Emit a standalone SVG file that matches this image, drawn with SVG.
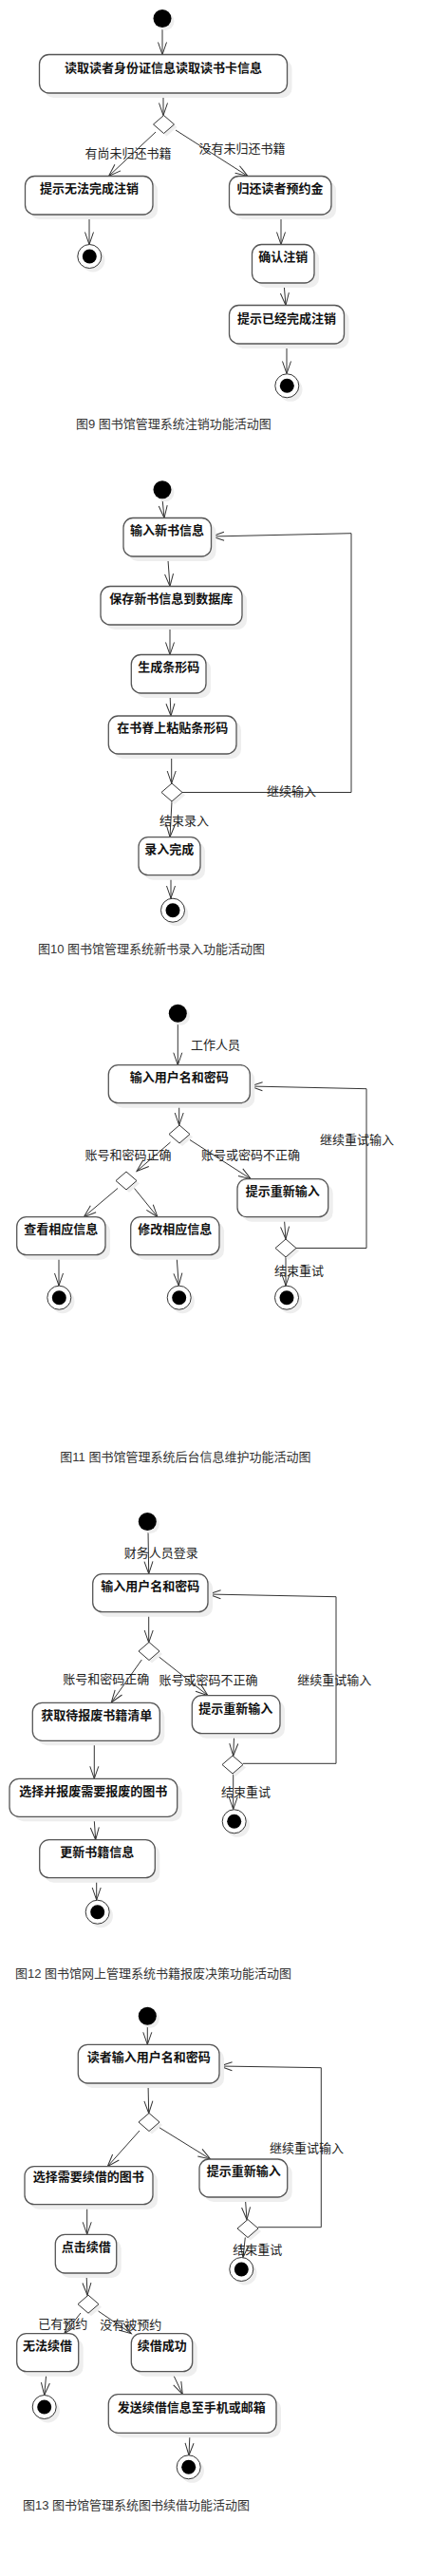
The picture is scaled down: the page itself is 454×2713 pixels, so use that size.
<svg xmlns="http://www.w3.org/2000/svg" width="454" height="2713" viewBox="0 0 454 2713">
<style>
.sh{fill:#eeeeee}
.box{fill:#fff;stroke:#555;stroke-width:1.3}
.t{font-family:"Liberation Sans","Noto Sans CJK SC",sans-serif;font-size:13px;font-weight:bold;text-anchor:middle;fill:#111}
.l{font-family:"Liberation Sans","Noto Sans CJK SC",sans-serif;font-size:13px;text-anchor:middle;fill:#222}
.cap{font-family:"Liberation Sans","Noto Sans CJK SC",sans-serif;font-size:13px;fill:#333}
.c{fill:none;stroke:#333;stroke-width:1;marker-end:url(#a)}
.dm{fill:#fff;stroke:#333;stroke-width:1}
.st{fill:#000}
.eo{fill:#fff;stroke:#333;stroke-width:1}
</style>
<defs>
<marker id="a" markerUnits="userSpaceOnUse" markerWidth="14" markerHeight="11" refX="13" refY="5" orient="auto" overflow="visible">
<path d="M0,0.5 L13,5 L0,9.5" fill="none" stroke="#333" stroke-width="1"/>
</marker>
</defs>
<rect width="454" height="2713" fill="#fff"/>

<g id="connectors">
<!-- diagram 1 -->
<line class="c" x1="171" y1="29" x2="171" y2="57.5"/>
<line class="c" x1="172" y1="98" x2="172" y2="121.5"/>
<line class="c" x1="164" y1="139" x2="114.5" y2="185.5"/>
<line class="c" x1="185" y1="137" x2="261" y2="185.5"/>
<line class="c" x1="94" y1="226" x2="94" y2="257.5"/>
<line class="c" x1="296" y1="226" x2="296" y2="257.5"/>
<line class="c" x1="299" y1="298" x2="301" y2="321.5"/>
<line class="c" x1="302" y1="362" x2="302" y2="393.5"/>
<!-- diagram 2 -->
<line class="c" x1="171" y1="525.2" x2="173" y2="545.5"/>
<line class="c" x1="176.7" y1="586" x2="179" y2="617.5"/>
<line class="c" x1="179" y1="658" x2="179" y2="689.5"/>
<line class="c" x1="179" y1="730" x2="180" y2="754"/>
<line class="c" x1="180.7" y1="794" x2="180.7" y2="825"/>
<line class="c" x1="181" y1="844" x2="179" y2="881.7"/>
<path class="c" d="M192,834.5 L370,834.5 L370,561.7 L223,565"/>
<line class="c" x1="180" y1="921.7" x2="180" y2="946"/>
<!-- diagram 3 -->
<line class="c" x1="187.3" y1="1077" x2="187.3" y2="1121.7"/>
<line class="c" x1="188.7" y1="1161.7" x2="188.7" y2="1185"/>
<line class="c" x1="179.5" y1="1203" x2="144" y2="1233.5"/>
<line class="c" x1="200" y1="1200.5" x2="264.3" y2="1241.7"/>
<line class="c" x1="124" y1="1251.5" x2="88.3" y2="1281.7"/>
<line class="c" x1="141.5" y1="1251.5" x2="166" y2="1281.7"/>
<line class="c" x1="299.3" y1="1281.7" x2="301" y2="1305"/>
<line class="c" x1="301" y1="1324" x2="301" y2="1354"/>
<path class="c" d="M312,1314.5 L386,1314.5 L386,1146.7 L263.5,1144"/>
<line class="c" x1="62" y1="1321.7" x2="62" y2="1354"/>
<line class="c" x1="186" y1="1321.7" x2="188.3" y2="1354"/>
<!-- diagram 4 -->
<line class="c" x1="156" y1="1612" x2="156.7" y2="1657.5"/>
<line class="c" x1="156.7" y1="1697.7" x2="156.7" y2="1730"/>
<line class="c" x1="149.3" y1="1748" x2="117.3" y2="1793"/>
<line class="c" x1="167.5" y1="1745" x2="219" y2="1785.7"/>
<line class="c" x1="246.7" y1="1825.7" x2="245.7" y2="1849.3"/>
<line class="c" x1="245.7" y1="1868" x2="245.7" y2="1905.5"/>
<path class="c" d="M256,1857.3 L354,1857.3 L354,1681.7 L219.5,1679"/>
<line class="c" x1="99.3" y1="1833.3" x2="99.3" y2="1873.3"/>
<line class="c" x1="99" y1="1913.3" x2="100.7" y2="1937.7"/>
<line class="c" x1="101.7" y1="1977.7" x2="101.7" y2="2001"/>
<!-- diagram 5 -->
<line class="c" x1="155.3" y1="2133" x2="155.3" y2="2153.3"/>
<line class="c" x1="156" y1="2194" x2="156.7" y2="2225.7"/>
<line class="c" x1="147" y1="2244" x2="113.3" y2="2281.7"/>
<line class="c" x1="167.5" y1="2240.5" x2="221.7" y2="2274"/>
<line class="c" x1="258.3" y1="2314" x2="260" y2="2337.7"/>
<line class="c" x1="258.3" y1="2356.5" x2="256" y2="2377.5"/>
<path class="c" d="M271.7,2345.7 L338.3,2345.7 L338.3,2177.7 L231.5,2176"/>
<line class="c" x1="91.7" y1="2321.7" x2="91.7" y2="2353.3"/>
<line class="c" x1="91" y1="2394" x2="92" y2="2417.3"/>
<line class="c" x1="85" y1="2436" x2="67.7" y2="2457.7"/>
<line class="c" x1="103.5" y1="2434" x2="138.3" y2="2457.7"/>
<line class="c" x1="49" y1="2497.7" x2="46.7" y2="2522.5"/>
<line class="c" x1="181" y1="2497.7" x2="192.3" y2="2521.7"/>
<line class="c" x1="200" y1="2562.3" x2="199" y2="2586"/>
</g>

<g id="labels">
<text class="l" x="135" y="166">有尚未归还书籍</text>
<text class="l" x="255" y="161">没有未归还书籍</text>
<text class="l" x="194" y="868.5">结束录入</text>
<text class="l" x="307" y="837.5">继续输入</text>
<text class="l" x="227" y="1104.5">工作人员</text>
<text class="l" x="135" y="1221">账号和密码正确</text>
<text class="l" x="264" y="1221">账号或密码不正确</text>
<text class="l" x="315" y="1343">结束重试</text>
<text class="l" x="376" y="1205">继续重试输入</text>
<text class="l" x="169.7" y="1639.5">财务人员登录</text>
<text class="l" x="111.7" y="1773">账号和密码正确</text>
<text class="l" x="219.5" y="1773.8">账号或密码不正确</text>
<text class="l" x="352.3" y="1773.8">继续重试输入</text>
<text class="l" x="259" y="1892">结束重试</text>
<text class="l" x="323" y="2267.2">继续重试输入</text>
<text class="l" x="271.3" y="2373.8">结束重试</text>
<text class="l" x="66.3" y="2452.2">已有预约</text>
<text class="l" x="137.7" y="2452.8">没有被预约</text>
</g>

<!-- Diagram 1 -->
<g id="d1_start"><circle class="sh" cx="174" cy="22.5" r="9.5"/><circle class="st" cx="171" cy="19.5" r="9.5"/></g>
<g id="d1_read"><rect class="sh" x="46.5" y="62.5" width="261" height="40.5" rx="10"/><rect class="box" x="41.5" y="57.5" width="261" height="40.5" rx="10"/><text class="t" x="172" y="75.5">读取读者身份证信息读取读书卡信息</text></g>
<g id="d1_dec"><polygon class="sh" points="164.5,134 175.5,124.5 186.5,134 175.5,143.5"/><polygon class="dm" points="161.5,131 172.5,121.5 183.5,131 172.5,140.5"/></g>
<g id="d1_fail"><rect class="sh" x="31.5" y="190.5" width="134.5" height="40.5" rx="10"/><rect class="box" x="26.5" y="185.5" width="134.5" height="40.5" rx="10"/><text class="t" x="94" y="202.5">提示无法完成注销</text></g>
<g id="d1_refund"><rect class="sh" x="246.5" y="190.5" width="107.5" height="40.5" rx="10"/><rect class="box" x="241.5" y="185.5" width="107.5" height="40.5" rx="10"/><text class="t" x="295" y="202.5">归还读者预约金</text></g>
<g id="d1_end1"><circle class="sh" cx="98" cy="274" r="12.5"/><circle class="eo" cx="94.3" cy="270" r="12.5"/><circle class="st" cx="94.3" cy="270" r="7.5"/></g>
<g id="d1_confirm"><rect class="sh" x="270.5" y="262.5" width="65.5" height="40.5" rx="10"/><rect class="box" x="265.5" y="257.5" width="65.5" height="40.5" rx="10"/><text class="t" x="298.3" y="275">确认注销</text></g>
<g id="d1_done"><rect class="sh" x="246.5" y="326.5" width="121" height="40.5" rx="10"/><rect class="box" x="241.5" y="321.5" width="121" height="40.5" rx="10"/><text class="t" x="302" y="339.5">提示已经完成注销</text></g>
<g id="d1_end2"><circle class="sh" cx="306" cy="410.3" r="12.5"/><circle class="eo" cx="302.3" cy="406.3" r="12.5"/><circle class="st" cx="302.3" cy="406.3" r="7.5"/></g>
<g id="cap9"><text class="cap" x="80" y="451">图9 图书馆管理系统注销功能活动图</text></g>

<!-- Diagram 2 -->
<g id="d2_start"><circle class="sh" cx="174" cy="518.7" r="9.5"/><circle class="st" cx="171" cy="515.7" r="9.5"/></g>
<g id="d2_input"><rect class="sh" x="135" y="550.5" width="92.5" height="40.5" rx="10"/><rect class="box" x="130" y="545.5" width="92.5" height="40.5" rx="10"/><text class="t" x="176" y="562.8">输入新书信息</text></g>
<g id="d2_save"><rect class="sh" x="111" y="622.5" width="149" height="40.5" rx="10"/><rect class="box" x="106" y="617.5" width="149" height="40.5" rx="10"/><text class="t" x="180.3" y="635">保存新书信息到数据库</text></g>
<g id="d2_gen"><rect class="sh" x="143.3" y="694.5" width="78.7" height="40.5" rx="10"/><rect class="box" x="138.3" y="689.5" width="78.7" height="40.5" rx="10"/><text class="t" x="177.7" y="707">生成条形码</text></g>
<g id="d2_paste"><rect class="sh" x="119.3" y="759" width="134.7" height="40" rx="10"/><rect class="box" x="114.3" y="754" width="134.7" height="40" rx="10"/><text class="t" x="181.7" y="771">在书脊上粘贴条形码</text></g>
<g id="d2_dec"><polygon class="sh" points="173,837.5 184,828 195,837.5 184,847"/><polygon class="dm" points="170,834.5 181,825 192,834.5 181,844"/></g>
<g id="d2_finish"><rect class="sh" x="151" y="886.7" width="65" height="40" rx="10"/><rect class="box" x="146" y="881.7" width="65" height="40" rx="10"/><text class="t" x="178.3" y="898.5">录入完成</text></g>
<g id="d2_end"><circle class="sh" cx="185.7" cy="962.7" r="12.5"/><circle class="eo" cx="182" cy="958.7" r="12.5"/><circle class="st" cx="182" cy="958.7" r="7.5"/></g>
<g id="cap10"><text class="cap" x="40" y="1003.5">图10 图书馆管理系统新书录入功能活动图</text></g>

<!-- Diagram 3 -->
<g id="d3_start"><circle class="sh" cx="190.3" cy="1070.3" r="9.5"/><circle class="st" cx="187.3" cy="1067.3" r="9.5"/></g>
<g id="d3_login"><rect class="sh" x="119.3" y="1126.7" width="149" height="40" rx="10"/><rect class="box" x="114.3" y="1121.7" width="149" height="40" rx="10"/><text class="t" x="188.7" y="1138.8">输入用户名和密码</text></g>
<g id="d3_dec"><polygon class="sh" points="181,1197.5 192,1188 203,1197.5 192,1207"/><polygon class="dm" points="178,1194.5 189,1185 200,1194.5 189,1204"/></g>
<g id="d3_dec2"><polygon class="sh" points="125,1246.5 136,1237 147,1246.5 136,1256"/><polygon class="dm" points="122,1243.5 133,1234 144,1243.5 133,1253"/></g>
<g id="d3_view"><rect class="sh" x="22.7" y="1286.7" width="93.3" height="40" rx="10"/><rect class="box" x="17.7" y="1281.7" width="93.3" height="40" rx="10"/><text class="t" x="64.3" y="1298.8">查看相应信息</text></g>
<g id="d3_edit"><rect class="sh" x="142.7" y="1286.7" width="93.3" height="40" rx="10"/><rect class="box" x="137.7" y="1281.7" width="93.3" height="40" rx="10"/><text class="t" x="184.3" y="1298.8">修改相应信息</text></g>
<g id="d3_retry"><rect class="sh" x="255" y="1246.7" width="95.7" height="40" rx="10"/><rect class="box" x="250" y="1241.7" width="95.7" height="40" rx="10"/><text class="t" x="297.7" y="1258.8">提示重新输入</text></g>
<g id="d3_dec3"><polygon class="sh" points="293,1317.5 304,1308 315,1317.5 304,1327"/><polygon class="dm" points="290,1314.5 301,1305 312,1314.5 301,1324"/></g>
<g id="d3_end1"><circle class="sh" cx="66" cy="1370.7" r="12.5"/><circle class="eo" cx="62.3" cy="1366.7" r="12.5"/><circle class="st" cx="62.3" cy="1366.7" r="7.5"/></g>
<g id="d3_end2"><circle class="sh" cx="192.4" cy="1370.7" r="12.5"/><circle class="eo" cx="188.7" cy="1366.7" r="12.5"/><circle class="st" cx="188.7" cy="1366.7" r="7.5"/></g>
<g id="d3_end3"><circle class="sh" cx="305.7" cy="1370.7" r="12.5"/><circle class="eo" cx="302" cy="1366.7" r="12.5"/><circle class="st" cx="302" cy="1366.7" r="7.5"/></g>
<g id="cap11"><text class="cap" x="63.3" y="1539">图11 图书馆管理系统后台信息维护功能活动图</text></g>

<!-- Diagram 4 -->
<g id="d4_start"><circle class="sh" cx="158.3" cy="1605.5" r="9.5"/><circle class="st" cx="155.3" cy="1602.5" r="9.5"/></g>
<g id="d4_login"><rect class="sh" x="102.7" y="1662.7" width="121.3" height="40" rx="10"/><rect class="box" x="97.7" y="1657.7" width="121.3" height="40" rx="10"/><text class="t" x="158.3" y="1675.2">输入用户名和密码</text></g>
<g id="d4_dec"><polygon class="sh" points="149,1742 160,1732.5 171,1742 160,1751.5"/><polygon class="dm" points="146,1739 157,1729.5 168,1739 157,1748.5"/></g>
<g id="d4_list"><rect class="sh" x="39.3" y="1798.3" width="134" height="40" rx="10"/><rect class="box" x="34.3" y="1793.3" width="134" height="40" rx="10"/><text class="t" x="101.7" y="1811.2">获取待报废书籍清单</text></g>
<g id="d4_retry"><rect class="sh" x="207.3" y="1790.7" width="92.7" height="40" rx="10"/><rect class="box" x="202.3" y="1785.7" width="92.7" height="40" rx="10"/><text class="t" x="248.3" y="1803.5">提示重新输入</text></g>
<g id="d4_dec2"><polygon class="sh" points="237,1861.5 248,1852 259,1861.5 248,1871"/><polygon class="dm" points="234,1858.5 245,1849 256,1858.5 245,1868"/></g>
<g id="d4_end1"><circle class="sh" cx="250.4" cy="1922.3" r="12.5"/><circle class="eo" cx="246.7" cy="1918.3" r="12.5"/><circle class="st" cx="246.7" cy="1918.3" r="7.5"/></g>
<g id="d4_select"><rect class="sh" x="15" y="1878.3" width="176.7" height="40" rx="10"/><rect class="box" x="10" y="1873.3" width="176.7" height="40" rx="10"/><text class="t" x="98.3" y="1891.2">选择并报废需要报废的图书</text></g>
<g id="d4_update"><rect class="sh" x="46.7" y="1942.7" width="121.6" height="40" rx="10"/><rect class="box" x="41.7" y="1937.7" width="121.6" height="40" rx="10"/><text class="t" x="102.3" y="1954.5">更新书籍信息</text></g>
<g id="d4_end2"><circle class="sh" cx="106.4" cy="2017.7" r="12.5"/><circle class="eo" cx="102.7" cy="2013.7" r="12.5"/><circle class="st" cx="102.7" cy="2013.7" r="7.5"/></g>
<g id="cap12"><text class="cap" x="16" y="2082.8">图12 图书馆网上管理系统书籍报废决策功能活动图</text></g>

<!-- Diagram 5 -->
<g id="d5_start"><circle class="sh" cx="158.3" cy="2126.3" r="9.5"/><circle class="st" cx="155.3" cy="2123.3" r="9.5"/></g>
<g id="d5_login"><rect class="sh" x="87.3" y="2158.3" width="148.7" height="40.7" rx="10"/><rect class="box" x="82.3" y="2153.3" width="148.7" height="40.7" rx="10"/><text class="t" x="156.7" y="2171.2">读者输入用户名和密码</text></g>
<g id="d5_dec"><polygon class="sh" points="149,2238 160,2228.5 171,2238 160,2247.5"/><polygon class="dm" points="146,2235 157,2225.5 168,2235 157,2244.5"/></g>
<g id="d5_select"><rect class="sh" x="31" y="2286.7" width="135" height="40" rx="10"/><rect class="box" x="26" y="2281.7" width="135" height="40" rx="10"/><text class="t" x="93.3" y="2297.2">选择需要续借的图书</text></g>
<g id="d5_retry"><rect class="sh" x="215" y="2279" width="92.7" height="40" rx="10"/><rect class="box" x="210" y="2274" width="92.7" height="40" rx="10"/><text class="t" x="256.7" y="2291.2">提示重新输入</text></g>
<g id="d5_dec2"><polygon class="sh" points="253,2350 264,2340.5 275,2350 264,2359.5"/><polygon class="dm" points="250,2347 261,2337.5 272,2347 261,2356.5"/></g>
<g id="d5_end1"><circle class="sh" cx="258" cy="2394" r="12.5"/><circle class="eo" cx="254.3" cy="2390" r="12.5"/><circle class="st" cx="254.3" cy="2390" r="7.5"/></g>
<g id="d5_click"><rect class="sh" x="63.3" y="2358.3" width="64.4" height="40.7" rx="10"/><rect class="box" x="58.3" y="2353.3" width="64.4" height="40.7" rx="10"/><text class="t" x="90.7" y="2370.5">点击续借</text></g>
<g id="d5_dec3"><polygon class="sh" points="85,2429.7 96,2420.2 107,2429.7 96,2439.2"/><polygon class="dm" points="82,2426.7 93,2417.2 104,2426.7 93,2436.2"/></g>
<g id="d5_fail"><rect class="sh" x="22.7" y="2462.7" width="65" height="40" rx="10"/><rect class="box" x="17.7" y="2457.7" width="65" height="40" rx="10"/><text class="t" x="50" y="2474.5">无法续借</text></g>
<g id="d5_ok"><rect class="sh" x="143.3" y="2462.7" width="64.4" height="40" rx="10"/><rect class="box" x="138.3" y="2457.7" width="64.4" height="40" rx="10"/><text class="t" x="170.7" y="2474.5">续借成功</text></g>
<g id="d5_end2"><circle class="sh" cx="50.4" cy="2539" r="12.5"/><circle class="eo" cx="46.7" cy="2535" r="12.5"/><circle class="st" cx="46.7" cy="2535" r="7.5"/></g>
<g id="d5_send"><rect class="sh" x="119.3" y="2526.7" width="176.7" height="40.6" rx="10"/><rect class="box" x="114.3" y="2521.7" width="176.7" height="40.6" rx="10"/><text class="t" x="201.7" y="2539.5">发送续借信息至手机或邮箱</text></g>
<g id="d5_end3"><circle class="sh" cx="202.4" cy="2602.3" r="12.5"/><circle class="eo" cx="198.7" cy="2598.3" r="12.5"/><circle class="st" cx="198.7" cy="2598.3" r="7.5"/></g>
<g id="cap13"><text class="cap" x="24" y="2642.8">图13 图书馆管理系统图书续借功能活动图</text></g>
</svg>
